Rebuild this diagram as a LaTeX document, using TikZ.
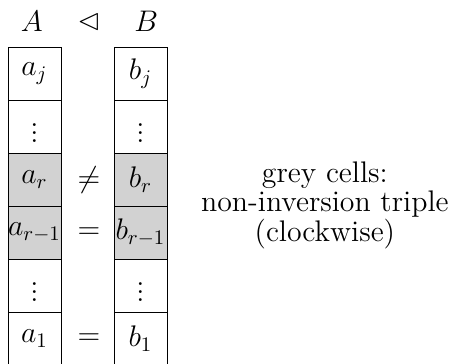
\documentclass[tikz,border=0pt,12pt]{standalone}
\usepackage{amsmath}
\usepackage{amssymb}
\usepackage{tikz}

\begin{document}
\begin{tikzpicture}[x=0.9cm, y=0.9cm, font=\large,
    cell/.style={draw, minimum width=0.9cm, minimum height=0.9cm, inner sep=0pt},
    greycell/.style={cell, fill=gray!35}]
    \useasboundingbox (0,0.04) rectangle (8.51,6.89);

    % Headers
    \node (hA) at (0.60,6.48) {$A$};
    \node (hrel) at (1.68,6.48) {$\lhd$};
    \node (hB) at (2.76,6.48) {$B$};

    % Column A (bottom to top)
    \node[cell] (a1) at (0.65,0.5) {$a_1$};
    \node[cell] (alow) at (0.65,1.5) {$\vdots$};
    \node[greycell] (arm) at (0.65,2.5) {$a_{r-1}$};
    \node[greycell] (ar) at (0.65,3.5) {$a_r$};
    \node[cell] (ahigh) at (0.65,4.5) {$\vdots$};
    \node[cell] (aj) at (0.65,5.5) {$a_j$};

    % Column B (bottom to top)
    \node[cell] (b1) at (2.65,0.5) {$b_1$};
    \node[cell] (blow) at (2.65,1.5) {$\vdots$};
    \node[greycell] (brm) at (2.65,2.5) {$b_{r-1}$};
    \node[greycell] (br) at (2.65,3.5) {$b_r$};
    \node[cell] (bhigh) at (2.65,4.5) {$\vdots$};
    \node[cell] (bj) at (2.65,5.5) {$b_j$};

    % Relations between the columns
    \node (eq1) at (1.68,0.5) {$=$};
    \node (eqrm) at (1.68,2.5) {$=$};
    \node (neqr) at (1.68,3.5) {$\neq$};

    % Note
    \node[align=center, font={\fontsize{14.4}{12.9}\selectfont}] (note) at (6.13,3.02)
        {grey cells:\\non-inversion triple\\(clockwise)};

\end{tikzpicture}
\end{document}
